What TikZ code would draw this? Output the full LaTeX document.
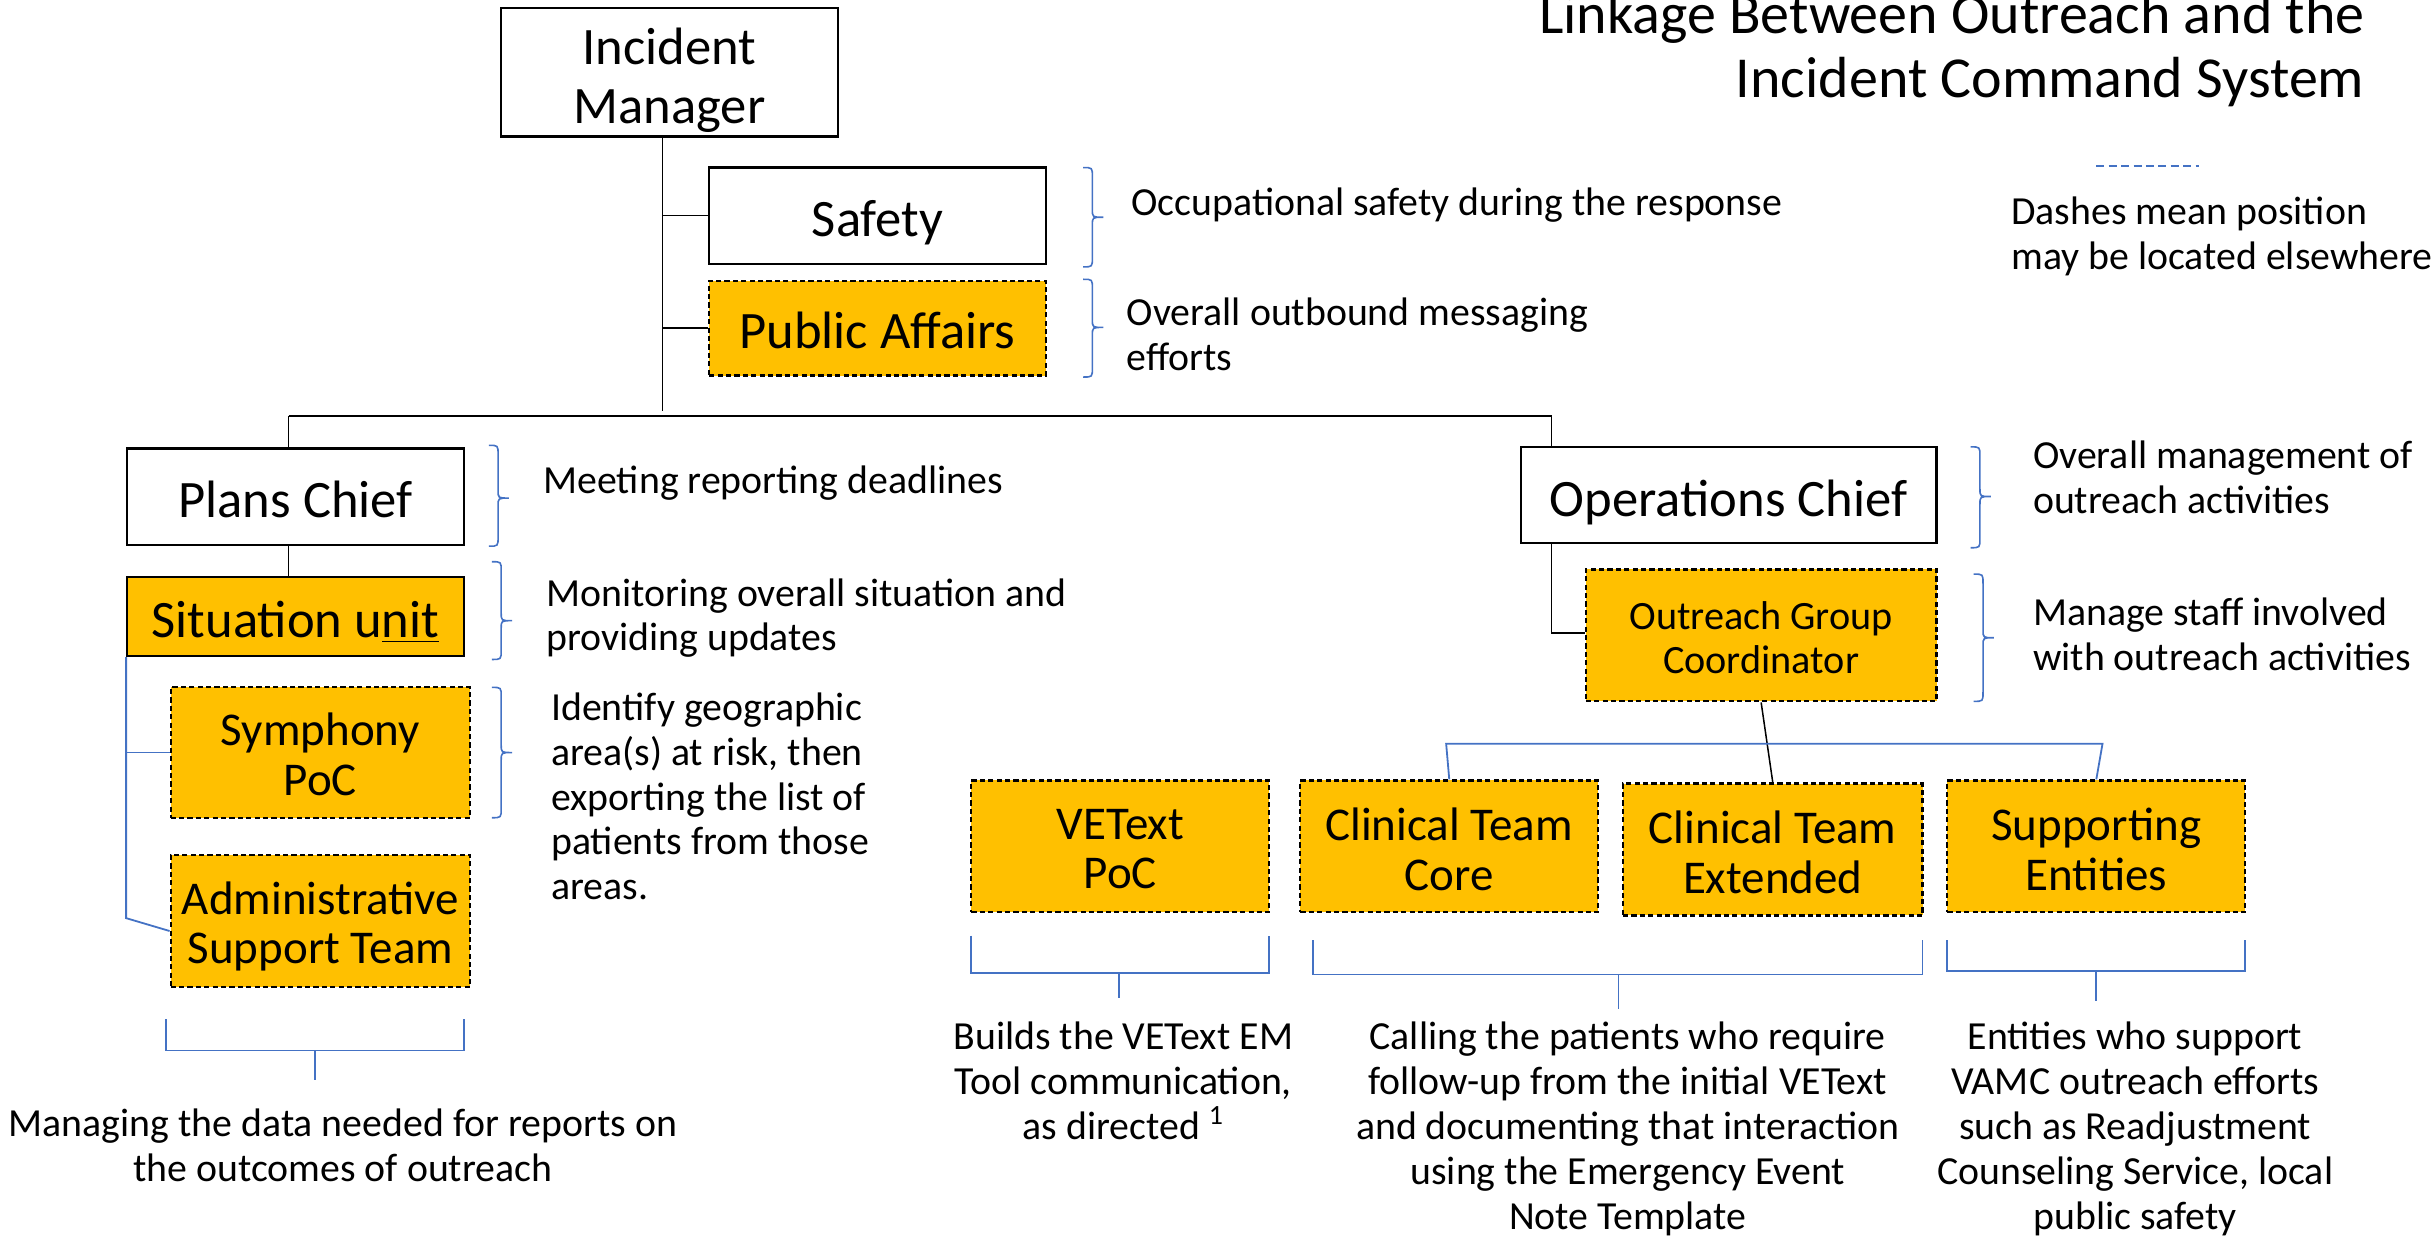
\documentclass[tikz,border=0pt]{standalone}
\usepackage{fontspec}
\setmainfont{Carlito}
\usetikzlibrary{calc}
\definecolor{orng}{HTML}{FFC000}
\definecolor{bl}{HTML}{4472C4}
\def\uu{0.7758pt}
\newcommand\myBig{\fontsize{26.3pt}{29.5pt}\selectfont}
\newcommand\myMid{\fontsize{23.5pt}{24.8pt}\selectfont}
\newcommand\myOgc{\fontsize{20.1pt}{21.7pt}\selectfont}
\newcommand\myDesc{\fontsize{19.9pt}{22.3pt}\selectfont}
\newcommand\myBot{\fontsize{19.9pt}{22.5pt}\selectfont}
\newcommand\myTitle{\fontsize{29pt}{31.8pt}\selectfont}
\newcommand\BraceR[4]{%
  \draw[bbrace] (#1,#2) .. controls (#1+6,#2) .. (#1+6,#2+6) -- (#1+6,#4-5)
    .. controls (#1+6,#4) .. (#1+13,#4) .. controls (#1+6,#4) .. (#1+6,#4+5)
    -- (#1+6,#3-6) .. controls (#1+6,#3) .. (#1,#3);}
\tikzset{
  sz/.style 2 args={minimum width=#1*\uu, minimum height=#2*\uu},
  box/.style={draw, line width=1.1pt, inner sep=0pt},
  orbox/.style={box, fill=orng, dash pattern=on 2.6pt off 1.6pt},
  sorbox/.style={box, fill=orng},
  btext/.style={inner sep=0pt, align=center, font=\myBig,
    execute at begin node=\strut, execute at end node=\strut},
  conn/.style={line width=0.75pt},
  bconn/.style={draw=bl, line width=0.9pt},
  bbrace/.style={draw=bl, line width=0.8pt},
  desc/.style={inner sep=0pt, align=left, font=\myDesc, anchor=west,
    execute at begin node=\strut, execute at end node=\strut},
  bdesc/.style={inner sep=0pt, align=center, font=\myBot,
    execute at begin node=\strut, execute at end node=\strut},
}
\begin{document}
\begin{tikzpicture}[x=0.7758pt, y=-0.7758pt]
\useasboundingbox (0,0) rectangle (1568,796);

% title
\node[inner sep=0pt, align=right, font=\myTitle, anchor=east,
  execute at begin node=\strut, execute at end node=\strut] (title) at (1524,35.5)
  {Linkage Between Outreach and the\\Incident Command System};

% boxes
\node[box, sz={217}{83}] (im) at (431.5,46.5) {};
\node[box, sz={217}{62}] (safety) at (565.5,139) {};
\node[orbox, sz={217}{61}] (pa) at (565.5,211.5) {};
\node[box, sz={217}{62}] (plans) at (190.5,320) {};
\node[box, sz={268}{62}] (ops) at (1114,319) {};
\node[sorbox, sz={217}{51}] (situ) at (190.5,397.5) {};
\node[orbox, sz={193}{84}] (symph) at (206.5,485) {};
\node[orbox, sz={193}{85}] (admin) at (206.5,593.5) {};
\node[orbox, sz={226}{85}] (ogc) at (1135,409.5) {};
\node[orbox, sz={192}{85}] (vetext) at (722,545.5) {};
\node[orbox, sz={192}{85}] (core) at (934,545.5) {};
\node[orbox, sz={193}{85}] (ext) at (1142.5,547.5) {};
\node[orbox, sz={192}{85}] (supp) at (1351,545.5) {};

% box texts
\node[btext] (tim) at ($(im.center)+(0,8)$) {Incident\\Manager};
\node[btext] (tsafety) at ($(safety.center)+(0,6)$) {Safety};
\node[btext] (tpa) at ($(pa.center)+(0,5.5)$) {Public Affairs};
\node[btext] (tplans) at ($(plans.center)+(0,6)$) {Plans Chief};
\node[btext] (tops) at ($(ops.center)+(0,6)$) {Operations Chief};
\node[btext] (tsitu) at ($(situ.center)+(0,6)$) {Situation u\underline{nit}};
\node[btext, font=\myMid] (tsymph) at ($(symph.center)+(0,6)$) {Symphony\\PoC};
\node[btext, font=\myMid] (tadmin) at ($(admin.center)+(0,6)$) {Administrative\\Support Team};
\node[btext, font=\myOgc] (togc) at ($(ogc.center)+(0,5.5)$) {Outreach Group\\Coordinator};
\node[btext, font=\myMid] (tvetext) at ($(vetext.center)+(0,6.5)$) {VEText\\PoC};
\node[btext, font=\myMid] (tcore) at ($(core.center)+(0,6.5)$) {Clinical Team\\Core};
\node[btext, font=\myMid] (text) at ($(ext.center)+(0,6.5)$) {Clinical Team\\Extended};
\node[btext, font=\myMid] (tsupp) at ($(supp.center)+(0,6.5)$) {Supporting\\Entities};

% black connectors
\coordinate (trunk) at ($(im.south)+(-4.5,0)$);
\coordinate (barL) at (186,268);
\coordinate (barR) at (1000,268);
\draw[conn] (trunk) -- ++(0,176);
\draw[conn] (trunk |- safety.west) -- (safety.west);
\draw[conn] (trunk |- pa.west) -- (pa.west);
\draw[line width=0.9pt] (barL) -- (barR);
\draw[conn] (barL) -- (barL |- plans.north);
\draw[conn] (barR) -- (barR |- ops.north);
\draw[conn] (barL |- plans.south) -- (barL |- situ.north);
\draw[conn] (barR |- ops.south) |- ($(ogc.west)+(0,-1.5)$);
\draw[conn] (ogc.south) -- (ext.north);

% blue connectors
\draw[bconn] (situ.south west) |- (symph.west);
\draw[bconn] (situ.south west) -- ++(0,168) -- ($(admin.west)+(0,6.5)$);
\draw[bconn] (core.north) -- ($(core.north)+(-2,-23)$) -- ($(supp.north)+(4,-23)$) -- (supp.north);

% bottom brackets
\draw[bconn] (107,657) -- (107,677) -- (299,677) -- (299,657);
\draw[bconn] (203,677) -- (203,696);
\draw[bconn] (626,603) -- (626,627) -- (818,627) -- (818,603);
\draw[bconn] (721,627) -- (721,643);
\draw[bconn] (846,606) -- (846,628) -- (1239,628) -- (1239,606);
\draw[bconn] (1043,628) -- (1043,650);
\draw[bconn] (1255,606) -- (1255,626) -- (1447,626) -- (1447,606);
\draw[bconn] (1351,626) -- (1351,645);

% braces
\BraceR{698}{108}{172}{140}
\BraceR{698}{180}{243}{211}
\BraceR{315}{287}{352}{321}
\BraceR{317}{362}{425}{400}
\BraceR{317}{443}{527}{485}
\BraceR{1270}{288}{353}{320}
\BraceR{1272}{370}{452}{411}

% legend
\draw[draw=bl, line width=0.7pt, dash pattern=on 4pt off 2.2pt] (1351,107) -- (1417,107);
\node[desc] (legend) at (1296,154.5) {Dashes mean position\\may be located elsewhere};

% descriptions
\node[desc] (dsafety) at (729,133) {Occupational safety during the response};
\node[desc] (dpa) at (726,219.5) {Overall outbound messaging\\efforts};
\node[desc] (dplans) at (350,312) {Meeting reporting deadlines};
\node[desc] (dsitu) at (352,400.5) {Monitoring overall situation and\\providing updates};
\node[desc] (dsymph) at (355,517.5) {Identify geographic\\area(s) at risk, then\\exporting the list of\\patients from those\\areas.};
\node[desc] (dops) at (1310,312) {Overall management of\\outreach activities};
\node[desc] (dogc) at (1310,413) {Manage staff involved\\with outreach activities};

\node[bdesc] (dadmin) at (221,742.5) {Managing the data needed for reports on\\the outcomes of outreach};
\node[bdesc] (dvet) at (724,701) {Builds the VEText EM\\Tool communication,\\as directed \textsuperscript{1}};
\node[bdesc] (dcore) at (1049,730) {Calling the patients who require\\follow-up from the initial VEText\\and documenting that interaction\\using the Emergency Event\\Note Template};
\node[bdesc] (dsupp) at (1376,730) {Entities who support\\VAMC outreach efforts\\such as Readjustment\\Counseling Service, local\\public safety};
\end{tikzpicture}
\end{document}
